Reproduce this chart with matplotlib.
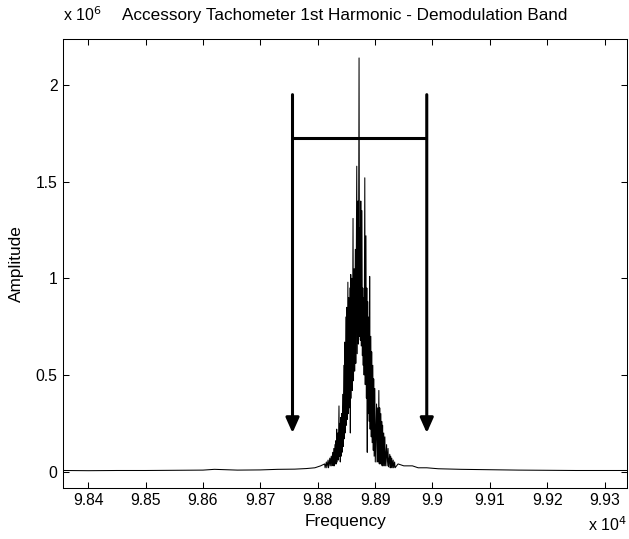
import numpy as np
import matplotlib
matplotlib.use("Agg")
import matplotlib.pyplot as plt

plt.rcParams['font.family'] = ['Liberation Sans', 'DejaVu Sans']

# ---- data (frequency in Hz, amplitude in units of 1e6) ----
freq_base_left = [98356, 98400, 98450, 98500, 98550, 98600, 98620, 98640, 98660,
                  98700, 98730, 98760, 98780, 98795, 98805]
amp_base_left = [0.006, 0.005, 0.006, 0.006, 0.007, 0.008, 0.012, 0.010, 0.008,
                 0.009, 0.012, 0.013, 0.016, 0.020, 0.030]

freq_peak = [98812, 98815, 98818, 98821, 98823.5, 98826, 98828, 98830, 98831.5, 98833,
             98835, 98837, 98838.5, 98840, 98841.5, 98843.5, 98845.5, 98847, 98849,
             98850.5, 98852.5, 98854, 98856, 98857.5, 98859.5, 98861.5, 98863.5,
             98865.5, 98868, 98870, 98872, 98873.5, 98875, 98877, 98878.5, 98880,
             98882, 98884, 98885.5, 98887, 98889, 98890.5, 98892.5, 98894, 98896,
             98897.5, 98899.5, 98902.5, 98904.5, 98906.5, 98908, 98910, 98911.5,
             98913, 98915, 98917, 98920, 98922.5, 98925.5, 98927, 98929, 98931.5, 98934]
amp_peak_hi = [0.04, 0.05, 0.06, 0.07, 0.08, 0.10, 0.12, 0.14, 0.16, 0.22,
               0.20, 0.34, 0.25, 0.28, 0.30, 0.40, 0.55, 0.67, 0.80,
               0.85, 0.98, 0.90, 0.95, 1.02, 1.00, 1.31, 1.05,
               1.15, 1.58, 1.40, 2.14, 1.26, 1.40, 1.35, 0.95, 0.90,
               1.52, 1.22, 0.95, 0.88, 0.80, 1.01, 0.70, 0.62, 0.55,
               0.48, 0.43, 0.35, 0.33, 0.42, 0.33, 0.30, 0.26,
               0.24, 0.20, 0.18, 0.14, 0.12, 0.09, 0.08, 0.07, 0.06, 0.05]
amp_peak_lo = [0.02, 0.02, 0.02, 0.03, 0.03, 0.03, 0.03, 0.04, 0.04, 0.05,
               0.06, 0.08, 0.05, 0.08, 0.10, 0.13, 0.17, 0.20, 0.24,
               0.27, 0.30, 0.33, 0.20, 0.38, 0.42, 0.47, 0.52,
               0.56, 0.61, 0.66, 0.70, 0.68, 0.65, 0.60, 0.55, 0.50,
               0.45, 0.38, 0.10, 0.30, 0.26, 0.22, 0.18, 0.15, 0.11,
               0.08, 0.05, 0.05, 0.05, 0.04, 0.04, 0.04, 0.03,
               0.03, 0.03, 0.03, 0.03, 0.025, 0.02, 0.02, 0.02, 0.02, 0.02]

freq_base_right = [98940, 98950, 98965, 98975, 98990, 99010, 99050, 99100, 99150,
                   99200, 99250, 99339]
amp_base_right = [0.040, 0.030, 0.030, 0.020, 0.020, 0.015, 0.012, 0.010, 0.008,
                  0.007, 0.006, 0.006]

x_ticks = [98400, 98500, 98600, 98700, 98800, 98900, 99000, 99100, 99200, 99300]
x_tick_labels = ['9.84', '9.85', '9.86', '9.87', '9.88', '9.89', '9.9', '9.91', '9.92', '9.93']
y_ticks = [0, 0.5, 1, 1.5, 2]
y_tick_labels = ['0', '0.5', '1', '1.5', '2']

band_lo, band_hi = 98756, 98990
arrow_top, bar_y, arrow_tip = 1.95, 1.728, 0.20

title = 'Accessory Tachometer 1st Harmonic - Demodulation Band'

# ---- build trace ----
xs = list(freq_base_left)
ys = list(amp_base_left)
for f, h, l in zip(freq_peak, amp_peak_hi, amp_peak_lo):
    xs += [f, f + 0.8]
    ys += [h, l]
xs += freq_base_right
ys += amp_base_right

W, H = 629, 539
fig = plt.figure(figsize=(W / 100, H / 100), dpi=100)
ax_l, ax_r, ax_t, ax_b = 63, 627, 39, 487.7
ax = fig.add_axes([ax_l / W, 1 - ax_b / H, (ax_r - ax_l) / W, (ax_b - ax_t) / H])

ax.plot(xs, ys, color='black', lw=0.75)

ax.set_xlim(98356, 99339)
ax.set_ylim(-0.083, 2.238)
ax.set_xticks(x_ticks)
ax.set_xticklabels(x_tick_labels)
ax.set_yticks(y_ticks)
ax.set_yticklabels(y_tick_labels)
ax.tick_params(direction='in', length=4.5, width=0.75, top=True, right=True,
               labelsize=11.3, pad=4, colors='black')
for s in ax.spines.values():
    s.set_linewidth(0.75)

# band arrows
for xb in (band_lo, band_hi):
    ax.annotate('', xy=(xb, arrow_tip), xytext=(xb, arrow_top),
                arrowprops=dict(arrowstyle='-|>,head_length=0.9,head_width=0.4',
                                lw=2.2, color='black', mutation_scale=10,
                                shrinkA=0, shrinkB=0))
ax.plot([band_lo, band_hi], [bar_y, bar_y], color='black', lw=2.2,
        solid_capstyle='butt')

ax.set_xlabel('Frequency', fontsize=12.4, labelpad=4)
ax.set_ylabel('Amplitude', fontsize=12.4, labelpad=8)

fig.text((ax_l + ax_r) / 2 / W, 1 - 20 / H, title, fontsize=12.3,
         ha='center', va='baseline')
fig.text(ax_l / W, 1 - 21 / H, r'x 10$^{6}$', fontsize=11.5, ha='left', va='baseline')
fig.text(627 / W, 1 - 531 / H, r'x 10$^{4}$', fontsize=11.5, ha='right', va='baseline')

fig.savefig('out.png', dpi=100, facecolor='white')
